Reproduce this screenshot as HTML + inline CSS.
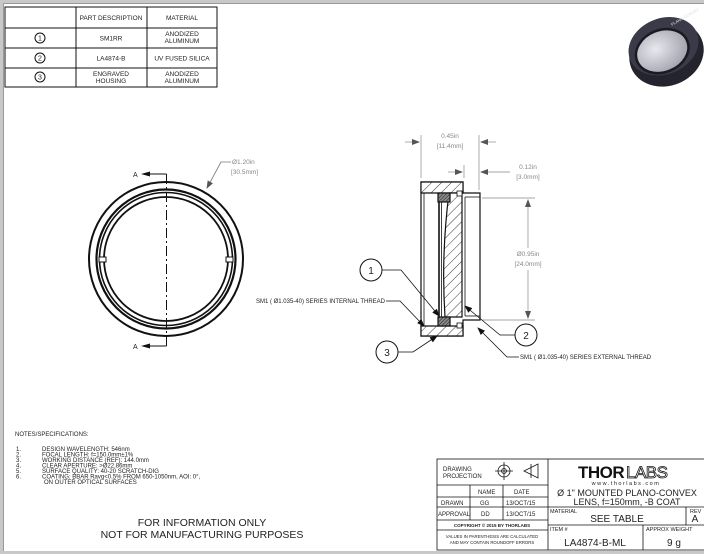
<!DOCTYPE html>
<html><head><meta charset="utf-8"><style>
html,body{margin:0;padding:0;background:#fff;}
svg{display:block;font-family:"Liberation Sans",sans-serif;}
</style></head><body>
<svg width="704" height="554" viewBox="0 0 704 554" xmlns="http://www.w3.org/2000/svg">
<defs>
<pattern id="h" width="7" height="7" patternUnits="userSpaceOnUse" patternTransform="rotate(45)"><rect width="7" height="7" fill="#fff"/><line x1="0" y1="0" x2="0" y2="7" stroke="#222" stroke-width="0.9"/></pattern>
<pattern id="hd" width="2.5" height="2.5" patternUnits="userSpaceOnUse" patternTransform="rotate(45)"><rect width="2.5" height="2.5" fill="#888"/><line x1="0" y1="0" x2="0" y2="2.5" stroke="#222" stroke-width="1"/></pattern>
<marker id="ar" markerWidth="8" markerHeight="6" refX="7" refY="3" orient="auto" markerUnits="userSpaceOnUse"><path d="M0,0 L8,3 L0,6 z" fill="#555"/></marker>
<marker id="ab" markerWidth="8" markerHeight="6" refX="7" refY="3" orient="auto" markerUnits="userSpaceOnUse"><path d="M0,0 L8,3 L0,6 z" fill="#111"/></marker>
<radialGradient id="g1" cx="0.4" cy="0.4" r="0.7"><stop offset="0" stop-color="#e8e8ee"/><stop offset="1" stop-color="#9a9aa6"/></radialGradient>
</defs>
<rect x="0" y="0" width="704" height="554" fill="#fff"/>
<rect x="0" y="0" width="704" height="3" fill="#c8c8c8"/>
<rect x="0" y="0" width="3" height="554" fill="#c8c8c8"/>
<rect x="0" y="551" width="704" height="3" fill="#c8c8c8"/>
<line x1="3.5" y1="3" x2="3.5" y2="551" stroke="#999" stroke-width="1"/>
<line x1="3" y1="3.5" x2="704" y2="3.5" stroke="#999" stroke-width="1"/>

<g stroke="#111" stroke-width="1" fill="none">
<rect x="5" y="7" width="212" height="80"/>
<line x1="76" y1="7" x2="76" y2="87"/><line x1="147" y1="7" x2="147" y2="87"/>
<line x1="5" y1="28" x2="217" y2="28"/><line x1="5" y1="48" x2="217" y2="48"/><line x1="5" y1="68" x2="217" y2="68"/>
<circle cx="40" cy="38" r="5"/><circle cx="40" cy="58" r="5"/><circle cx="40" cy="77" r="5"/>
</g>
<g font-size="6.5" fill="#222" text-anchor="middle">
<text x="111" y="20">PART DESCRIPTION</text><text x="182" y="20">MATERIAL</text>
<text x="40" y="40.5" font-size="7">1</text><text x="40" y="60.5" font-size="7">2</text><text x="40" y="79.5" font-size="7">3</text>
<text x="111" y="40.5">SM1RR</text><text x="182" y="36">ANODIZED</text><text x="182" y="43">ALUMINUM</text>
<text x="111" y="60.5">LA4874-B</text><text x="182" y="60.5">UV FUSED SILICA</text>
<text x="111" y="76">ENGRAVED</text><text x="111" y="83">HOUSING</text><text x="182" y="76">ANODIZED</text><text x="182" y="83">ALUMINUM</text>
</g>

<g transform="rotate(-22 665 50)">
<ellipse cx="665" cy="54" rx="38" ry="32" fill="#24242e"/>
<ellipse cx="665" cy="46" rx="36" ry="28" fill="#3a3a48"/>
<ellipse cx="662" cy="50" rx="27" ry="21" fill="url(#g1)" stroke="#1a1a22" stroke-width="2.5"/>
</g>
<text x="672" y="26" font-size="4" fill="#ddd" transform="rotate(-30 672 26)">PLANO-CONVEX</text>

<g fill="none" stroke="#111">
<circle cx="166" cy="259" r="77" stroke-width="2"/>
<circle cx="166" cy="259" r="69.5" stroke-width="2.2"/>
<circle cx="166" cy="259" r="66.5" stroke-width="1.6"/>
<circle cx="166" cy="259" r="62" stroke-width="1.8"/>
<rect x="99" y="257" width="7" height="5" stroke-width="1" fill="#fff"/>
<rect x="226" y="257" width="7" height="5" stroke-width="1" fill="#fff"/>
<line x1="166.5" y1="174" x2="166.5" y2="346" stroke-width="1" stroke-dasharray="10,3,2,3"/>
<polyline points="166.5,174 150,174" stroke-width="1"/>
<polyline points="166.5,346 150,346" stroke-width="1"/>
</g>
<path d="M141,174 L150,171.5 L150,176.5z M141,346 L150,343.5 L150,348.5z" fill="#111"/>
<text x="133" y="177" font-size="7" fill="#222">A</text>
<text x="133" y="349" font-size="7" fill="#222">A</text>
<polyline points="231,162 221,162 207,188" fill="none" stroke="#777" stroke-width="0.8" marker-end="url(#ar)"/>
<text x="232" y="164" font-size="6.5" fill="#888">Ø1.20in</text>
<text x="231" y="174" font-size="6.5" fill="#888">[30.5mm]</text>

<g stroke="#111" stroke-width="1.2">
<path d="M421,182 H463 V193 H480 V320 H463 V336 H421 Z" fill="#fff"/>
<path d="M421,182 H463 V193 H421 Z" fill="url(#h)"/>
<path d="M421,326 H463 V336 H421 Z" fill="url(#h)"/>
<line x1="424" y1="193" x2="424" y2="326" stroke-width="0.8"/>
<path d="M449,193 H462 V317 H445 Q441,255 449,193 Z" fill="url(#h)"/>
<rect x="438" y="193" width="12" height="9" fill="url(#hd)"/>
<rect x="438" y="317" width="12" height="9" fill="url(#hd)"/>
<line x1="439" y1="202" x2="439" y2="317" stroke-width="1.6"/>
<line x1="441.5" y1="202" x2="441.5" y2="317" stroke-width="0.8"/>
<rect x="457" y="191" width="5" height="5" fill="#fff" stroke-width="0.8"/>
<rect x="457" y="323" width="5" height="5" fill="#fff" stroke-width="0.8"/>
<line x1="465" y1="197" x2="480" y2="197" stroke-width="0.8"/>
<line x1="465" y1="316" x2="480" y2="316" stroke-width="0.8"/>
<line x1="465" y1="197" x2="465" y2="316" stroke-width="0.8"/>
</g>
<g stroke="#888" stroke-width="0.7" fill="none">
<line x1="421" y1="178" x2="421" y2="135"/><line x1="479" y1="190" x2="479" y2="135"/>
<line x1="405" y1="142" x2="419" y2="142" marker-end="url(#ar)"/><line x1="496" y1="142" x2="481" y2="142" marker-end="url(#ar)"/>
<line x1="464" y1="178" x2="464" y2="165"/>
<line x1="448" y1="172" x2="462" y2="172" marker-end="url(#ar)"/><line x1="510" y1="172" x2="481" y2="172" marker-end="url(#ar)"/>
<line x1="482" y1="198" x2="535" y2="198"/><line x1="482" y1="320" x2="535" y2="320"/>
<line x1="528" y1="248" x2="528" y2="200" marker-end="url(#ar)"/>
<line x1="528" y1="270" x2="528" y2="318" marker-end="url(#ar)"/>
</g>
<g font-size="6.5" fill="#888" text-anchor="middle">
<text x="450" y="138">0.45in</text><text x="450" y="148">[11.4mm]</text>
<text x="528" y="169">0.12in</text><text x="528" y="179">[3.0mm]</text>
<text x="528" y="256">Ø0.95in</text><text x="528" y="266">[24.0mm]</text>
</g>
<g fill="#fff" stroke="#111" stroke-width="1">
<circle cx="371" cy="270" r="11"/><circle cx="526" cy="335" r="11"/><circle cx="387" cy="352" r="11"/>
</g>
<g font-size="10" fill="#222" text-anchor="middle">
<text x="371" y="274">1</text><text x="526" y="339">2</text><text x="387" y="356">3</text>
</g>
<g stroke="#111" stroke-width="0.8" fill="none">
<polyline points="382,270 401,270 439,316" marker-end="url(#ab)"/>
<polyline points="515,335 500,335 465,306" marker-end="url(#ab)"/>
<polyline points="398,352 413,352 437,336" marker-end="url(#ab)"/>
<polyline points="386,301 400,301 424,326" marker-end="url(#ab)"/>
<polyline points="519,357 507,357 478,328" marker-end="url(#ab)"/>
</g>
<text x="385" y="303" font-size="6" fill="#222" text-anchor="end">SM1 ( Ø1.035-40) SERIES INTERNAL THREAD</text>
<text x="520" y="359" font-size="6" fill="#222">SM1 ( Ø1.035-40) SERIES EXTERNAL THREAD</text>

<g font-size="6" fill="#222">
<text x="15" y="436">NOTES/SPECIFICATIONS:</text>
<text x="16" y="451">1.</text><text x="42" y="451">DESIGN WAVELENGTH: 546nm</text>
<text x="16" y="456.5">2.</text><text x="42" y="456.5">FOCAL LENGTH: f=150.0mm±1%</text>
<text x="16" y="462">3.</text><text x="42" y="462">WORKING DISTANCE (REF): 144.0mm</text>
<text x="16" y="467.5">4.</text><text x="42" y="467.5">CLEAR APERTURE: &gt;Ø22.86mm</text>
<text x="16" y="473">5.</text><text x="42" y="473">SURFACE QUALITY: 40-20 SCRATCH-DIG</text>
<text x="16" y="478.5">6.</text><text x="42" y="478.5">COATING: BBAR Ravg&lt;0.5% FROM 650-1050nm, AOI: 0°,</text>
<text x="44" y="484">ON OUTER OPTICAL SURFACES</text>
</g>
<g font-size="10.5" fill="#222" text-anchor="middle">
<text x="202" y="526">FOR INFORMATION ONLY</text>
<text x="202" y="538">NOT FOR MANUFACTURING PURPOSES</text>
</g>

<g stroke="#111" stroke-width="0.8" fill="none">
<rect x="437" y="459" width="270" height="91"/>
<line x1="548" y1="459" x2="548" y2="550"/>
<line x1="437" y1="485" x2="548" y2="485"/>
<line x1="437" y1="497" x2="548" y2="497"/>
<line x1="437" y1="507" x2="548" y2="507"/>
<line x1="437" y1="520" x2="548" y2="520"/>
<line x1="437" y1="530" x2="548" y2="530"/>
<line x1="470" y1="485" x2="470" y2="520"/>
<line x1="503" y1="485" x2="503" y2="520"/>
<line x1="548" y1="507" x2="704" y2="507"/>
<line x1="548" y1="525" x2="704" y2="525"/>
<line x1="686" y1="507" x2="686" y2="525"/>
<line x1="643" y1="525" x2="643" y2="550"/>
<circle cx="504" cy="471" r="6"/><circle cx="504" cy="471" r="2.5"/>
<line x1="495" y1="471" x2="513" y2="471"/><line x1="504" y1="462" x2="504" y2="480"/>
<path d="M524,471 L538,464 V478 Z M531,464 V478"/>
</g>
<g font-size="6" fill="#222">
<text x="443" y="471">DRAWING</text><text x="443" y="478">PROJECTION</text>
<text x="478" y="494">NAME</text><text x="514" y="494">DATE</text>
<text x="441" y="505">DRAWN</text><text x="480" y="505">GG</text><text x="506" y="505">13/OCT/15</text>
<text x="438" y="516">APPROVAL</text><text x="481" y="516">DD</text><text x="506" y="516">13/OCT/15</text>
<text x="492" y="527" font-size="4.5" text-anchor="middle" font-weight="bold">COPYRIGHT © 2015 BY THORLABS</text>
<text x="492" y="538" font-size="4.3" text-anchor="middle">VALUES IN PARENTHESIS ARE CALCULATED</text>
<text x="492" y="544" font-size="4.3" text-anchor="middle">AND MAY CONTAIN ROUNDOFF ERRORS</text>
<text x="550" y="513" font-size="5.5">MATERIAL</text>
<text x="690" y="513" font-size="5.5">REV</text>
<text x="550" y="531" font-size="5.5">ITEM #</text>
<text x="646" y="531" font-size="5.5">APPROX WEIGHT</text>
</g>
<text x="578" y="478" font-size="17" font-weight="bold" fill="#111" letter-spacing="-0.5">THOR</text>
<text x="626" y="478" font-size="17" fill="#fff" stroke="#111" stroke-width="0.8" letter-spacing="-0.5">LABS</text>
<text x="626" y="485" font-size="5.5" fill="#222" text-anchor="middle" letter-spacing="1.5">www.thorlabs.com</text>
<g font-size="9" fill="#222" text-anchor="middle">
<text x="627" y="496">Ø 1" MOUNTED PLANO-CONVEX</text>
<text x="627" y="505">LENS, f=150mm, -B COAT</text>
<text x="617" y="522" font-size="10">SEE TABLE</text>
<text x="695" y="522" font-size="10">A</text>
<text x="595" y="546" font-size="10">LA4874-B-ML</text>
<text x="674" y="546" font-size="10">9 g</text>
</g>
</svg>
</body></html>
